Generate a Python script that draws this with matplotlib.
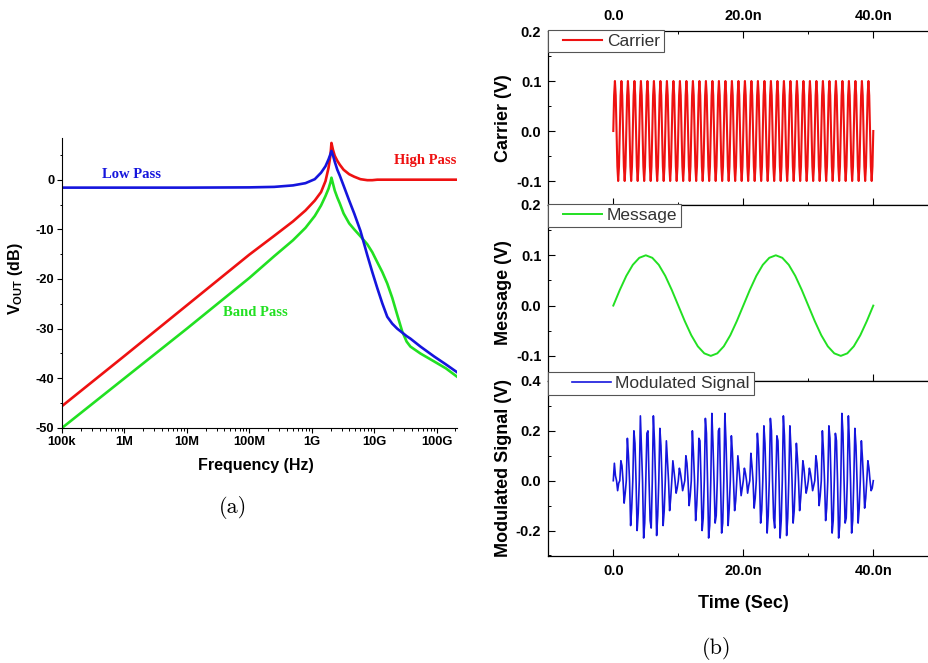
import numpy as np
import matplotlib
matplotlib.use('Agg')
import matplotlib.pyplot as plt
from matplotlib.ticker import FixedLocator, LogLocator, NullFormatter, MultipleLocator
from matplotlib.legend_handler import HandlerLine2D

plt.rcParams['font.family'] = ['Liberation Sans', 'DejaVu Sans']
plt.rcParams['axes.unicode_minus'] = False
plt.rcParams['mathtext.fontset'] = 'custom'
plt.rcParams['mathtext.rm'] = 'Liberation Sans:bold'
plt.rcParams['mathtext.bf'] = 'Liberation Sans:bold'

# ---- (a) filter response ----
freq_hz = [1e5, 1e6, 1e7, 1e8, 2.51e8, 5.01e8, 7.94e8, 1.12e9, 1.41e9, 1.66e9,
           1.86e9, 2.0e9, 2.07e9, 2.19e9, 2.34e9, 2.57e9, 2.82e9, 3.24e9, 3.98e9, 4.79e9,
           6.03e9, 7.76e9, 9.33e9, 1.12e10, 1.35e10, 1.62e10, 1.95e10, 2.34e10, 2.82e10, 3.31e10,
           3.8e10, 5.5e10, 9.12e10, 1.41e11, 2.14e11]
high_pass_db = [-45.6, -35.5, -25.3, -15.1, -11.3, -8.4, -6.2, -4.2, -2.5, -0.3,
                2.4, 5.0, 7.4, 6.0, 4.8, 3.8, 3.0, 2.0, 1.1, 0.6,
                0.1, -0.1, -0.1, 0.0, 0.0, 0.0, 0.0, 0.0, 0.0, 0.0,
                0.0, 0.0, 0.0, 0.0, 0.0]
low_pass_db = [-1.6, -1.6, -1.6, -1.55, -1.45, -1.15, -0.7, 0.1, 1.4, 2.7,
               4.1, 5.2, 5.8, 4.9, 3.6, 2.0, 0.8, -1.2, -4.2, -6.8,
               -10.3, -15.2, -18.6, -21.8, -24.9, -27.6, -29.0, -30.0, -30.8, -31.5,
               -32.0, -33.6, -35.6, -37.2, -38.8]
band_pass_db = [-50.0, -40.0, -30.0, -19.8, -15.4, -12.2, -9.7, -7.3, -5.2, -3.3,
                -1.8, -0.5, 0.4, -0.8, -2.2, -3.6, -4.8, -6.8, -8.8, -10.0,
                -11.4, -13.0, -14.6, -16.6, -18.6, -20.9, -23.8, -27.2, -30.6, -32.6,
                -33.6, -35.0, -36.6, -38.0, -39.7]
freq_ticks = [1e5, 1e6, 1e7, 1e8, 1e9, 1e10, 1e11]
freq_labels = ['100k', '1M', '10M', '100M', '1G', '10G', '100G']

# ---- (b) modulation waveforms (time in ns) ----
carrier_cycle = [0.0, 0.071, 0.1, 0.071, 0.0, -0.071, -0.1, -0.071]   # one 1 ns period
carrier_v = carrier_cycle * 40 + [0.0]
msg_t = list(range(41))
msg_v = [0.0, 0.031, 0.059, 0.081, 0.095, 0.1, 0.095, 0.081, 0.059, 0.031,
         0.0, -0.031, -0.059, -0.081, -0.095, -0.1, -0.095, -0.081, -0.059, -0.031,
         0.0, 0.031, 0.059, 0.081, 0.095, 0.1, 0.095, 0.081, 0.059, 0.031,
         0.0, -0.031, -0.059, -0.081, -0.095, -0.1, -0.095, -0.081, -0.059, -0.031,
         0.0]
# modulated signal: per carrier cycle, main peak / shoulder / main trough / shoulder
mod_up = [0.07, 0.08, 0.17, 0.20, 0.26, 0.19, 0.26, 0.21, 0.16, 0.08,
          0.05, 0.10, 0.20, 0.17, 0.25, 0.27, 0.20, 0.27, 0.18, 0.10,
          0.05, 0.11, 0.19, 0.22, 0.25, 0.18, 0.26, 0.22, 0.15, 0.08,
          0.05, 0.10, 0.20, 0.22, 0.19, 0.27, 0.26, 0.21, 0.16, 0.08]
mod_sh_up = [0.02, 0.06, 0.10, 0.15, 0.13, 0.20, 0.16, 0.14, 0.08, 0.04,
             0.03, 0.07, 0.11, 0.16, 0.19, 0.15, 0.21, 0.16, 0.11, 0.05,
             0.03, 0.06, 0.13, 0.15, 0.20, 0.16, 0.18, 0.13, 0.09, 0.05,
             0.03, 0.07, 0.12, 0.17, 0.16, 0.19, 0.15, 0.14, 0.09, 0.05]
mod_lo = [-0.04, -0.09, -0.18, -0.20, -0.23, -0.16, -0.22, -0.18, -0.12, -0.05,
          -0.04, -0.10, -0.16, -0.20, -0.23, -0.17, -0.21, -0.18, -0.12, -0.06,
          -0.05, -0.11, -0.17, -0.21, -0.15, -0.23, -0.22, -0.17, -0.12, -0.05,
          -0.04, -0.10, -0.16, -0.21, -0.23, -0.17, -0.21, -0.17, -0.11, -0.04]
mod_sh_lo = [-0.01, -0.05, -0.11, -0.13, -0.17, -0.19, -0.14, -0.12, -0.07, -0.03,
             -0.02, -0.06, -0.10, -0.15, -0.18, -0.14, -0.17, -0.11, -0.08, -0.03,
             -0.02, -0.07, -0.12, -0.14, -0.19, -0.16, -0.15, -0.12, -0.07, -0.03,
             -0.02, -0.06, -0.11, -0.16, -0.18, -0.15, -0.16, -0.11, -0.07, -0.03]
time_labels = ['0.0', '20.0n', '40.0n']

t_carrier = np.linspace(0, 40, len(carrier_v))
mod_v = []
for up, shu, lo, shl in zip(mod_up, mod_sh_up, mod_lo, mod_sh_lo):
    mod_v += [0.0, up, shu, 0.0, lo, shl]
mod_v.append(0.0)
t_mod = np.linspace(0, 40, len(mod_v))


class PaddedLine(HandlerLine2D):
    # legend line that starts a little way in from the frame
    def __init__(self, pad=7.5, **kw):
        super().__init__(**kw)
        self.pad = pad

    def create_artists(self, legend, orig_handle, xdescent, ydescent, width, height, fontsize, trans):
        arts = super().create_artists(legend, orig_handle, xdescent, ydescent, width, height, fontsize, trans)
        for a in arts:
            xd = np.asarray(a.get_xdata(), dtype=float)
            if len(xd) >= 2:
                a.set_xdata(np.linspace(xd[0] + self.pad, xd[-1], len(xd)))
        return arts


fig = plt.figure(figsize=(9.29, 6.63), dpi=100)

# ---------------- (a) ----------------
ax = fig.add_axes([0.0667, 0.3545, 0.4252, 0.4374])
ax.plot(freq_hz, high_pass_db, color='#ee1111', lw=1.9)
ax.plot(freq_hz, band_pass_db, color='#22e022', lw=1.9)
ax.plot(freq_hz, low_pass_db, color='#1515dd', lw=1.9)
ax.set_xscale('log')
ax.set_xlim(1e5, 2.12e11)
ax.set_ylim(-50, 8.4)
ax.spines['top'].set_visible(False)
ax.spines['right'].set_visible(False)
ax.xaxis.set_major_locator(FixedLocator(freq_ticks))
ax.set_xticklabels(freq_labels)
ax.xaxis.set_minor_locator(LogLocator(base=10, subs=np.arange(2, 10)))
ax.xaxis.set_minor_formatter(NullFormatter())
ax.yaxis.set_major_locator(MultipleLocator(10))
ax.yaxis.set_minor_locator(MultipleLocator(5))
ax.tick_params(which='major', direction='out', length=3.6, width=0.8, labelsize=9.3, pad=2)
ax.tick_params(which='minor', direction='out', length=1.8, width=0.7)
for lb in ax.get_xticklabels() + ax.get_yticklabels():
    lb.set_fontweight('bold')
ax.set_xlabel('Frequency (Hz)', fontsize=11.5, fontweight='bold')
ax.xaxis.set_label_coords(0.49, -0.105)
ax.set_ylabel(r'$\mathrm{V}_{\mathrm{OUT}}$ (dB)', fontsize=11.5, fontweight='bold')
ax.yaxis.set_label_coords(-0.094, 0.514)
ax.text(4.3e5, 1.0, 'Low Pass', color='#1515dd', fontsize=10.5, fontweight='bold',
        family='Liberation Serif', va='center')
ax.text(2.1e11, 3.8, 'High Pass', color='#ee1111', fontsize=10.5, fontweight='bold',
        family='Liberation Serif', va='center', ha='right')
ax.text(3.8e7, -26.8, 'Band Pass', color='#22e022', fontsize=10.5, fontweight='bold',
        family='Liberation Serif', va='center')
fig.text(0.2508, 0.2338, '(a)', family='cmr10', fontsize=16, ha='center', va='center')

# ---------------- (b) ----------------
left, width = 0.5902, 0.4198
ax1 = fig.add_axes([left, 0.6908, width, 0.2624])
ax2 = fig.add_axes([left, 0.4253, width, 0.2655])
ax3 = fig.add_axes([left, 0.1614, width, 0.2640])

ax1.plot(t_carrier, carrier_v, color='#ee1111', lw=1.5, label='Carrier')
ax2.plot(msg_t, msg_v, color='#22e022', lw=1.4, label='Message')
ax3.plot(t_mod, mod_v, color='#1515dd', lw=1.2, label='Modulated Signal')

ax1.set_ylim(-0.148, 0.2)
ax2.set_ylim(-0.15, 0.2)
ax3.set_ylim(-0.302, 0.4)
ax1.yaxis.set_major_locator(FixedLocator([-0.1, 0.0, 0.1, 0.2]))
ax2.yaxis.set_major_locator(FixedLocator([-0.1, 0.0, 0.1, 0.2]))
ax3.yaxis.set_major_locator(FixedLocator([-0.2, 0.0, 0.2, 0.4]))
ax1.yaxis.set_minor_locator(MultipleLocator(0.05))
ax2.yaxis.set_minor_locator(MultipleLocator(0.05))
ax3.yaxis.set_minor_locator(MultipleLocator(0.1))
ax1.set_ylabel('Carrier (V)')
ax2.set_ylabel('Message (V)')
ax3.set_ylabel('Modulated Signal (V)')

for a, hpad, hlen in ((ax1, 7.5, 2.9), (ax2, 7.5, 2.9), (ax3, 14.0, 3.4)):
    a.set_xlim(-10, 50)
    a.xaxis.set_major_locator(FixedLocator([0, 20, 40]))
    a.xaxis.set_minor_locator(FixedLocator([10, 30]))
    a.yaxis.set_major_formatter(matplotlib.ticker.FormatStrFormatter('%.1f'))
    a.tick_params(which='major', direction='in', length=5, width=0.8, labelsize=10.5, pad=5)
    a.tick_params(which='minor', direction='in', length=2.5, width=0.7)
    a.yaxis.label.set_fontsize(13)
    a.yaxis.label.set_fontweight('bold')
    a.yaxis.set_label_coords(-0.093, 0.5)
    for s in a.spines.values():
        s.set_linewidth(0.9)
    leg = a.legend(loc='upper left', bbox_to_anchor=(0, 1.0), borderaxespad=0,
                   fontsize=12.5, handlelength=hlen, handletextpad=0.25, borderpad=0.22,
                   fancybox=False, framealpha=1, edgecolor='#555555',
                   handler_map={matplotlib.lines.Line2D: PaddedLine(pad=hpad)})
    leg.get_frame().set_linewidth(0.8)
    for txt in leg.get_texts():
        txt.set_color('#333333')

ax1.legend_.set_bbox_to_anchor((0, 1.008))
ax2.legend_.set_bbox_to_anchor((0, 1.005))
ax3.legend_.set_bbox_to_anchor((0, 1.05))

ax1.tick_params(axis='x', which='both', top=True, bottom=True, labeltop=True, labelbottom=False, pad=6)
ax1.set_xticklabels(time_labels)
ax2.tick_params(axis='x', which='both', top=False, bottom=True, labelbottom=False)
ax3.tick_params(axis='x', which='both', top=False, bottom=True, labelbottom=True, pad=6)
ax3.set_xticklabels(time_labels)
for a in (ax1, ax2, ax3):
    for lb in a.get_xticklabels() + a.get_yticklabels():
        lb.set_fontweight('bold')
ax3.set_xlabel('Time (Sec)', fontsize=13, fontweight='bold')
ax3.xaxis.set_label_coords(0.5, -0.223)

fig.text(0.7718, 0.0226, '(b)', family='cmr10', fontsize=16, ha='center', va='center')

fig.savefig('out.png', dpi=100)
